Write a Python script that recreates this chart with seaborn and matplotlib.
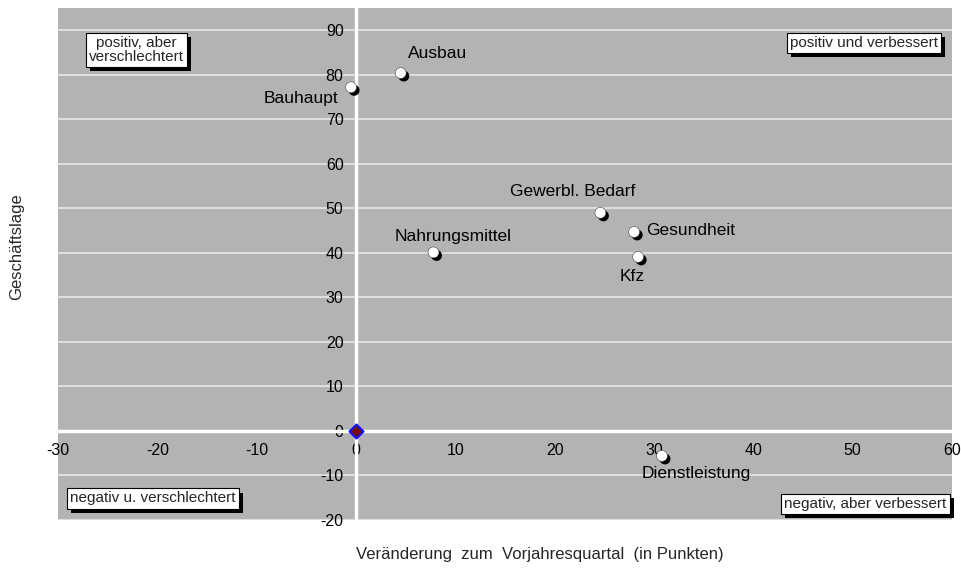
import matplotlib
matplotlib.use('Agg')
import matplotlib.pyplot as plt
import matplotlib.patheffects as pe
import pandas as pd
import seaborn as sns

# Branchen: Veränderung zum Vorjahresquartal vs. Geschäftslage
branchen = ['Ausbau', 'Bauhaupt', 'Gewerbl. Bedarf', 'Gesundheit', 'Kfz',
            'Nahrungsmittel', 'Dienstleistung']
veraenderung = [4.5, -0.5, 24.6, 28.0, 28.4, 7.8, 30.8]
geschaeftslage = [80.4, 77.2, 49.0, 44.7, 39.1, 40.1, -5.6]

x_ticks = [-30, -20, -10, 0, 10, 20, 30, 40, 50, 60]
y_ticks = [-20, -10, 0, 10, 20, 30, 40, 50, 60, 70, 80, 90]

quadranten = ['positiv, aber\nverschlechtert', 'positiv und verbessert',
              'negativ u. verschlechtert', 'negativ, aber verbessert']

df = pd.DataFrame({'branche': branchen, 'x': veraenderung, 'y': geschaeftslage})

sns.set_style('white')
plt.rcParams['font.family'] = ['Liberation Sans', 'DejaVu Sans']
plt.rcParams['axes.unicode_minus'] = False

fig = plt.figure(figsize=(9.61, 5.68), dpi=100)
ax = fig.add_axes([58 / 961, 48 / 568, 894 / 961, 512 / 568])
ax.set_facecolor('#b3b3b3')

ax.set_xlim(-30, 60)
ax.set_ylim(-20, 95)
ax.set_yticks(y_ticks)
ax.set_xticks(x_ticks)
ax.grid(axis='y', color='#e6e6e6', linewidth=1.2)
ax.set_axisbelow(True)

for s in ['top', 'right']:
    ax.spines[s].set_visible(False)
ax.spines['left'].set_position(('data', 0))
ax.spines['bottom'].set_position(('data', 0))
for s in ['left', 'bottom']:
    ax.spines[s].set_color('white')
    ax.spines[s].set_linewidth(2.5)
    ax.spines[s].set_zorder(1.5)

ax.tick_params(axis='both', which='both', direction='out', length=3, width=0.8,
               color='#333333', labelcolor='black', labelsize=11.5)
ax.tick_params(axis='y', pad=6)
ax.tick_params(axis='x', pad=6)

# Punkte mit Schatten
sns.scatterplot(data=df, x='x', y='y', ax=ax, s=62, color='white',
                edgecolor='#444444', linewidth=0.4, zorder=3,
                path_effects=[pe.SimplePatchShadow(offset=(2.2, -2.2), shadow_rgbFace='black', alpha=1.0),
                              pe.Normal()])

# Ursprung
sns.scatterplot(x=[0], y=[0], ax=ax, marker='D', s=50, color='#7a0a0a',
                edgecolor='#1010ff', linewidth=1.6, zorder=4)

offsets = {
    'Ausbau': (7, 20, 'left'),
    'Bauhaupt': (-13, -11, 'right'),
    'Gewerbl. Bedarf': (35, 21, 'right'),
    'Gesundheit': (12, 1, 'left'),
    'Kfz': (-6, -20, 'center'),
    'Nahrungsmittel': (-39, 16, 'left'),
    'Dienstleistung': (-20, -18, 'left'),
}
for name, xv, yv in zip(branchen, veraenderung, geschaeftslage):
    dx, dy, ha = offsets[name]
    ax.annotate(name, (xv, yv), xytext=(dx, dy), textcoords='offset pixels',
                ha=ha, va='center', fontsize=12.5, color='black', zorder=5)

# Quadranten-Beschriftungen
box_pos = [(0.088, 0.918, 'center'), (0.984, 0.932, 'right'),
           (0.0134, 0.042, 'left'), (0.994, 0.031, 'right')]
for txt, (bx, by, ha) in zip(quadranten, box_pos):
    t = ax.text(bx, by, txt, transform=ax.transAxes, ha=ha, va='center',
                fontsize=11, multialignment='center', zorder=6, linespacing=1.05,
                bbox=dict(boxstyle='square,pad=0.2', facecolor='white',
                          edgecolor='black', linewidth=0.8))
    t.get_bbox_patch().set_path_effects(
        [pe.SimplePatchShadow(offset=(3, -3), shadow_rgbFace='black', alpha=1.0), pe.Normal()])

ax.set_xlabel('')
ax.set_ylabel('')
fig.text(540 / 961, 1 - 555 / 568, 'Veränderung  zum  Vorjahresquartal  (in Punkten)',
         ha='center', va='center', fontsize=12)
fig.text(17 / 961, 1 - 247 / 568, 'Geschäftslage', rotation=90,
         ha='center', va='center', fontsize=12)

fig.savefig('out.png', dpi=100)
